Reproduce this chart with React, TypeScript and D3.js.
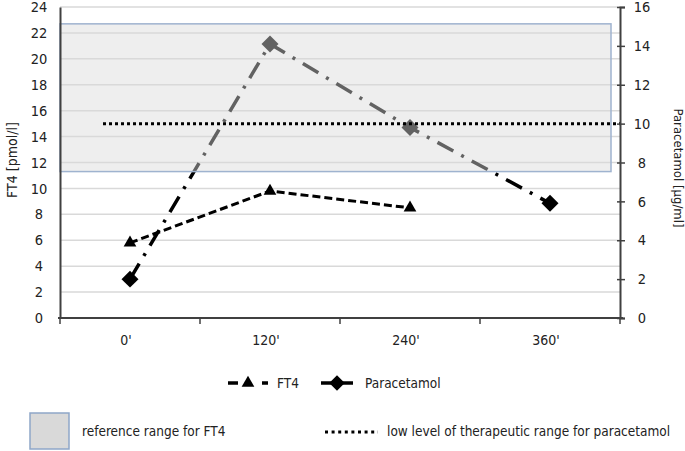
import * as d3 from 'd3';
import { useEffect, useRef } from 'react';

// time points (categories on the x axis)
const categories = ["0'", "120'", "240'", "360'"];
// FT4 [pmol/l], measured at the first three time points
const ft4Values = [5.8, 9.8, 8.5];
// Paracetamol [µg/ml]
const paracetamolValues = [2.0, 14.1, 9.8, 5.9];
// axis ticks
const ft4Ticks = [0, 2, 4, 6, 8, 10, 12, 14, 16, 18, 20, 22, 24];
const paracetamolTicks = [0, 2, 4, 6, 8, 10, 12, 14, 16];
// reference range for FT4 and low therapeutic level for paracetamol
const ft4Reference = [11.3, 22.7];
const therapeuticLow = 10;

const FONT = "'DejaVu Sans Condensed', 'DejaVu Sans', sans-serif";

export default function App() {
  const svgRef = useRef(null);

  useEffect(() => {
    document.body.style.margin = "0";
    const svg = d3.select(svgRef.current);
    svg.selectAll("*").remove();

    const width = 685;
    const height = 451;
    const left = 60;
    const right = 620;
    const top = 7;
    const bottom = 318;

    const x = d3.scaleBand(categories, [left, right]).padding(0);
    const cx = (c) => x(c) + x.bandwidth() / 2;
    const yL = d3.scaleLinear([0, 24], [bottom, top]);
    const yR = d3.scaleLinear([0, 16], [bottom, top]);

    svg.attr("width", width).attr("height", height)
      .attr("viewBox", [0, 0, width, height])
      .style("font-family", FONT)
      .style("display", "block");

    const axisColor = "#404040";

    // gridlines
    svg.append("g")
      .selectAll("line")
      .data(ft4Ticks.filter(d => d > 0))
      .join("line")
      .attr("x1", left).attr("x2", right)
      .attr("y1", d => yL(d)).attr("y2", d => yL(d))
      .attr("stroke", "#d9d9d9")
      .attr("stroke-width", 1.5);

    // FT4 line (dashed, triangles)
    const ft4Data = ft4Values.map((v, i) => ({ c: categories[i], v }));
    const lineFt4 = d3.line().x(d => cx(d.c)).y(d => yL(d.v));
    svg.append("path")
      .attr("d", lineFt4(ft4Data))
      .attr("fill", "none")
      .attr("stroke", "#000")
      .attr("stroke-width", 3)
      .attr("stroke-dasharray", "8,4");
    const tri = d3.symbol(d3.symbolTriangle, 70);
    svg.append("g")
      .selectAll("path")
      .data(ft4Data)
      .join("path")
      .attr("d", tri)
      .attr("transform", d => `translate(${cx(d.c)},${yL(d.v)})`)
      .attr("fill", "#000");

    // Paracetamol line (dash-dot, diamonds)
    const parData = paracetamolValues.map((v, i) => ({ c: categories[i], v }));
    const linePar = d3.line().x(d => cx(d.c)).y(d => yR(d.v));
    svg.append("path")
      .attr("d", linePar(parData))
      .attr("fill", "none")
      .attr("stroke", "#000")
      .attr("stroke-width", 3.5)
      .attr("stroke-dasharray", "18,9,3,9");
    svg.append("g")
      .selectAll("rect")
      .data(parData)
      .join("rect")
      .attr("x", -6).attr("y", -6).attr("width", 12).attr("height", 12)
      .attr("transform", d => `translate(${cx(d.c)},${yR(d.v)}) rotate(45)`)
      .attr("fill", "#000");

    // reference range box (semi-transparent, over the series)
    svg.append("rect")
      .attr("x", left)
      .attr("y", yL(ft4Reference[1]))
      .attr("width", right - left - 9)
      .attr("height", yL(ft4Reference[0]) - yL(ft4Reference[1]))
      .attr("fill", "#d9d9d9")
      .attr("fill-opacity", 0.45)
      .attr("stroke", "#9fb3cf")
      .attr("stroke-width", 1.5);

    // low therapeutic level (dotted)
    svg.append("line")
      .attr("x1", 103).attr("x2", right)
      .attr("y1", yR(therapeuticLow)).attr("y2", yR(therapeuticLow))
      .attr("stroke", "#000")
      .attr("stroke-width", 3)
      .attr("stroke-dasharray", "3,3");

    // left axis
    svg.append("g")
      .attr("transform", `translate(${left},0)`)
      .call(d3.axisLeft(yL).tickValues(ft4Ticks).tickSize(0).tickPadding(21))
      .call(g => g.select(".domain").attr("stroke", axisColor).attr("stroke-width", 2))
      .call(g => g.selectAll("text")
        .attr("fill", "#222")
        .attr("text-anchor", "middle")
        .style("font-family", FONT)
        .style("font-size", "14.5px"));

    // right axis
    svg.append("g")
      .attr("transform", `translate(${right},0)`)
      .call(d3.axisRight(yR).tickValues(paracetamolTicks).tickSize(5).tickSizeOuter(5).tickPadding(17))
      .call(g => g.select(".domain").attr("stroke", axisColor).attr("stroke-width", 2))
      .call(g => g.selectAll(".tick line").attr("stroke", axisColor).attr("stroke-width", 1.5).attr("x1", -3))
      .call(g => g.selectAll("text")
        .attr("fill", "#222")
        .attr("text-anchor", "middle")
        .style("font-family", FONT)
        .style("font-size", "14.5px"));

    // bottom axis
    const xb = svg.append("g").attr("transform", `translate(0,${bottom})`);
    xb.append("line")
      .attr("x1", left - 2).attr("x2", right + 3)
      .attr("stroke", axisColor).attr("stroke-width", 2);
    xb.selectAll("line.tick")
      .data([...categories.map(c => x(c)), right])
      .join("line")
      .attr("class", "tick")
      .attr("x1", d => d).attr("x2", d => d)
      .attr("y1", 0).attr("y2", 6)
      .attr("stroke", axisColor).attr("stroke-width", 1.5);
    xb.selectAll("text")
      .data(categories)
      .join("text")
      .attr("x", d => cx(d) - 4)
      .attr("y", 27)
      .attr("text-anchor", "middle")
      .attr("fill", "#222")
      .style("font-size", "14px")
      .text(d => d);

    // axis titles
    svg.append("text")
      .attr("transform", `translate(17,160) rotate(-90)`)
      .attr("text-anchor", "middle")
      .attr("fill", "#222")
      .style("font-size", "14px")
      .text("FT4 [pmol/l]");
    svg.append("text")
      .attr("transform", `translate(674,168) rotate(90)`)
      .attr("text-anchor", "middle")
      .attr("fill", "#222")
      .style("font-size", "13px")
      .text("Paracetamol [µg/ml]");

    // legend row 1
    const lg = svg.append("g").attr("transform", "translate(0,383)");
    lg.append("line").attr("x1", 228).attr("x2", 238).attr("stroke", "#000").attr("stroke-width", 3.5);
    lg.append("line").attr("x1", 262).attr("x2", 268).attr("stroke", "#000").attr("stroke-width", 3.5);
    lg.append("path").attr("d", tri).attr("transform", "translate(248,0)").attr("fill", "#000");
    lg.append("text").attr("x", 277).attr("y", 5).attr("fill", "#222").style("font-size", "13.5px").text("FT4");
    lg.append("line").attr("x1", 321).attr("x2", 353).attr("stroke", "#000").attr("stroke-width", 3.5);
    lg.append("rect").attr("x", -5.5).attr("y", -5.5).attr("width", 11).attr("height", 11)
      .attr("transform", "translate(337,0) rotate(45)").attr("fill", "#000");
    lg.append("text").attr("x", 365).attr("y", 5).attr("fill", "#222").style("font-size", "13.5px").text("Paracetamol");

    // legend row 2
    svg.append("rect")
      .attr("x", 30).attr("y", 413).attr("width", 39).attr("height", 36)
      .attr("fill", "#d9d9d9").attr("stroke", "#8ea6c8").attr("stroke-width", 1.5);
    svg.append("text").attr("x", 82).attr("y", 436).attr("fill", "#222").style("font-size", "13.5px")
      .text("reference range for FT4");
    svg.append("line")
      .attr("x1", 325).attr("x2", 378).attr("y1", 432).attr("y2", 432)
      .attr("stroke", "#000").attr("stroke-width", 3).attr("stroke-dasharray", "3,3.6");
    svg.append("text").attr("x", 387).attr("y", 436).attr("fill", "#222").style("font-size", "13.5px")
      .text("low level of therapeutic range for paracetamol");
  }, []);

  return <svg ref={svgRef} />;
}
